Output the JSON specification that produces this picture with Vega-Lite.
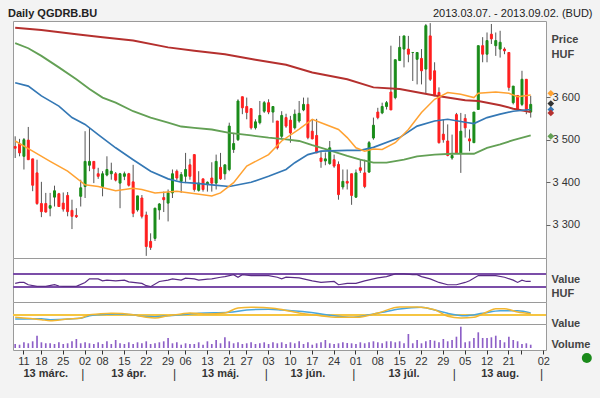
{
"$schema":"https://vega.github.io/schema/vega-lite/v6.json",
"background":"#f3f3f3",
"padding":{"left":8,"top":6,"right":7,"bottom":1},
"autosize":{"type":"pad"},
"bounds":"flush",
"spacing":0,
"config":{"font":"Liberation Sans","view":{"stroke":"#9a9a9a","fill":"#ffffff"},"axis":{"labelFont":"Liberation Sans","titleFont":"Liberation Sans","grid":false},"text":{"font":"Liberation Sans"}},
"title":{"text":"Daily QGDRB.BU","anchor":"start","frame":"group","fontSize":11,"fontWeight":"bold","color":"#222","font":"Liberation Sans","baseline":"bottom","offset":0,"dx":-5,"dy":23},
"resolve":{"scale":{"x":"shared","color":"independent","strokeWidth":"independent"}},
"datasets":{
"c":[
{"d":"03-07","o":3484,"h":3508,"l":3457,"c":3480,"v":4000},
{"d":"03-08","o":3490,"h":3502,"l":3461,"c":3469,"v":3300},
{"d":"03-11","o":3461,"h":3504,"l":3430,"c":3500,"v":5700},
{"d":"03-12","o":3499,"h":3530,"l":3453,"c":3453,"v":4700},
{"d":"03-13","o":3455,"h":3455,"l":3379,"c":3393,"v":6700},
{"d":"03-14","o":3422,"h":3453,"l":3347,"c":3350,"v":12300},
{"d":"03-18","o":3350,"h":3401,"l":3318,"c":3331,"v":5700},
{"d":"03-19","o":3350,"h":3375,"l":3329,"c":3330,"v":4700},
{"d":"03-20","o":3339,"h":3375,"l":3320,"c":3345,"v":4700},
{"d":"03-21","o":3365,"h":3392,"l":3343,"c":3380,"v":4000},
{"d":"03-22","o":3373,"h":3375,"l":3342,"c":3343,"v":5700},
{"d":"03-25","o":3351,"h":3376,"l":3331,"c":3337,"v":4000},
{"d":"03-26","o":3369,"h":3377,"l":3320,"c":3331,"v":4700},
{"d":"03-27","o":3334,"h":3359,"l":3290,"c":3320,"v":6700},
{"d":"03-28","o":3322,"h":3339,"l":3316,"c":3319,"v":9000},
{"d":"03-29","o":3367,"h":3406,"l":3343,"c":3387,"v":4700},
{"d":"04-02","o":3390,"h":3520,"l":3363,"c":3449,"v":5700},
{"d":"04-03","o":3440,"h":3528,"l":3426,"c":3449,"v":4700},
{"d":"04-04","o":3449,"h":3449,"l":3398,"c":3432,"v":4000},
{"d":"04-05","o":3420,"h":3434,"l":3408,"c":3414,"v":5700},
{"d":"04-08","o":3390,"h":3426,"l":3367,"c":3420,"v":4000},
{"d":"04-09","o":3417,"h":3461,"l":3414,"c":3430,"v":6700},
{"d":"04-10","o":3420,"h":3446,"l":3406,"c":3426,"v":4000},
{"d":"04-11","o":3420,"h":3424,"l":3402,"c":3405,"v":8000},
{"d":"04-12","o":3398,"h":3422,"l":3339,"c":3420,"v":4700},
{"d":"04-15","o":3414,"h":3425,"l":3405,"c":3420,"v":4000},
{"d":"04-16","o":3420,"h":3422,"l":3390,"c":3393,"v":5700},
{"d":"04-17","o":3401,"h":3441,"l":3318,"c":3327,"v":4000},
{"d":"04-18","o":3335,"h":3368,"l":3331,"c":3368,"v":5700},
{"d":"04-19","o":3363,"h":3370,"l":3315,"c":3320,"v":4700},
{"d":"04-22","o":3323,"h":3331,"l":3227,"c":3249,"v":6700},
{"d":"04-23","o":3261,"h":3280,"l":3241,"c":3247,"v":4000},
{"d":"04-24","o":3268,"h":3340,"l":3262,"c":3339,"v":4700},
{"d":"04-25","o":3335,"h":3351,"l":3312,"c":3349,"v":5700},
{"d":"04-26","o":3364,"h":3378,"l":3330,"c":3359,"v":6700},
{"d":"04-29","o":3351,"h":3383,"l":3308,"c":3375,"v":10000},
{"d":"04-30","o":3375,"h":3430,"l":3363,"c":3420,"v":4700},
{"d":"05-02","o":3426,"h":3430,"l":3405,"c":3410,"v":5700},
{"d":"05-03","o":3402,"h":3424,"l":3375,"c":3418,"v":3300},
{"d":"05-06","o":3414,"h":3469,"l":3398,"c":3430,"v":4700},
{"d":"05-07","o":3441,"h":3455,"l":3406,"c":3414,"v":4000},
{"d":"05-08","o":3465,"h":3465,"l":3378,"c":3383,"v":4000},
{"d":"05-09","o":3381,"h":3426,"l":3378,"c":3398,"v":5700},
{"d":"05-10","o":3408,"h":3408,"l":3378,"c":3383,"v":3300},
{"d":"05-13","o":3396,"h":3402,"l":3378,"c":3400,"v":6700},
{"d":"05-14","o":3410,"h":3447,"l":3378,"c":3398,"v":4000},
{"d":"05-15","o":3398,"h":3465,"l":3383,"c":3449,"v":8000},
{"d":"05-16","o":3435,"h":3469,"l":3406,"c":3408,"v":4700},
{"d":"05-17","o":3420,"h":3441,"l":3406,"c":3441,"v":10700},
{"d":"05-21","o":3430,"h":3540,"l":3426,"c":3532,"v":6700},
{"d":"05-22","o":3477,"h":3516,"l":3469,"c":3491,"v":4700},
{"d":"05-23","o":3500,"h":3595,"l":3497,"c":3591,"v":5700},
{"d":"05-24","o":3601,"h":3601,"l":3560,"c":3575,"v":4000},
{"d":"05-27","o":3578,"h":3599,"l":3548,"c":3564,"v":4700},
{"d":"05-28","o":3573,"h":3573,"l":3524,"c":3528,"v":5700},
{"d":"05-29","o":3528,"h":3548,"l":3524,"c":3542,"v":4000},
{"d":"05-30","o":3540,"h":3591,"l":3536,"c":3557,"v":4700},
{"d":"05-31","o":3567,"h":3591,"l":3563,"c":3587,"v":5700},
{"d":"06-03","o":3587,"h":3595,"l":3560,"c":3565,"v":4000},
{"d":"06-04","o":3565,"h":3578,"l":3540,"c":3578,"v":5700},
{"d":"06-05","o":3544,"h":3544,"l":3477,"c":3481,"v":4700},
{"d":"06-06","o":3508,"h":3567,"l":3504,"c":3557,"v":5700},
{"d":"06-07","o":3552,"h":3561,"l":3528,"c":3532,"v":4000},
{"d":"06-10","o":3546,"h":3556,"l":3493,"c":3516,"v":5700},
{"d":"06-11","o":3528,"h":3571,"l":3524,"c":3560,"v":4700},
{"d":"06-12","o":3544,"h":3591,"l":3540,"c":3562,"v":6700},
{"d":"06-13","o":3570,"h":3599,"l":3567,"c":3583,"v":4000},
{"d":"06-14","o":3583,"h":3599,"l":3501,"c":3505,"v":5700},
{"d":"06-17","o":3520,"h":3548,"l":3501,"c":3502,"v":3300},
{"d":"06-18","o":3510,"h":3549,"l":3469,"c":3469,"v":4700},
{"d":"06-19","o":3457,"h":3473,"l":3434,"c":3449,"v":5700},
{"d":"06-20","o":3450,"h":3470,"l":3440,"c":3455,"v":8000},
{"d":"06-21","o":3444,"h":3497,"l":3441,"c":3481,"v":4700},
{"d":"06-24","o":3453,"h":3465,"l":3434,"c":3438,"v":4000},
{"d":"06-25","o":3442,"h":3449,"l":3359,"c":3371,"v":4700},
{"d":"06-26","o":3389,"h":3430,"l":3383,"c":3402,"v":5700},
{"d":"06-27","o":3402,"h":3430,"l":3383,"c":3398,"v":5000},
{"d":"06-28","o":3420,"h":3420,"l":3347,"c":3369,"v":4700},
{"d":"07-01","o":3365,"h":3430,"l":3363,"c":3422,"v":4000},
{"d":"07-02","o":3434,"h":3453,"l":3422,"c":3428,"v":5700},
{"d":"07-03","o":3422,"h":3453,"l":3386,"c":3390,"v":4700},
{"d":"07-04","o":3424,"h":3497,"l":3422,"c":3493,"v":5700},
{"d":"07-05","o":3504,"h":3552,"l":3500,"c":3534,"v":6700},
{"d":"07-08","o":3565,"h":3575,"l":3548,"c":3552,"v":5700},
{"d":"07-09","o":3563,"h":3587,"l":3560,"c":3578,"v":4700},
{"d":"07-10","o":3578,"h":3591,"l":3571,"c":3587,"v":6700},
{"d":"07-11","o":3612,"h":3721,"l":3570,"c":3570,"v":6700},
{"d":"07-12","o":3599,"h":3688,"l":3595,"c":3688,"v":5700},
{"d":"07-15","o":3686,"h":3744,"l":3686,"c":3717,"v":6700},
{"d":"07-16","o":3713,"h":3744,"l":3670,"c":3744,"v":4700},
{"d":"07-17","o":3713,"h":3744,"l":3682,"c":3701,"v":14000},
{"d":"07-18","o":3705,"h":3706,"l":3638,"c":3705,"v":4700},
{"d":"07-19","o":3689,"h":3705,"l":3630,"c":3705,"v":8000},
{"d":"07-22","o":3691,"h":3713,"l":3630,"c":3662,"v":4700},
{"d":"07-23","o":3666,"h":3772,"l":3607,"c":3768,"v":6700},
{"d":"07-24","o":3744,"h":3774,"l":3638,"c":3642,"v":8000},
{"d":"07-25","o":3662,"h":3682,"l":3603,"c":3603,"v":7300},
{"d":"07-26","o":3611,"h":3623,"l":3491,"c":3493,"v":5700},
{"d":"07-29","o":3513,"h":3548,"l":3493,"c":3500,"v":9000},
{"d":"07-30","o":3497,"h":3536,"l":3461,"c":3463,"v":6700},
{"d":"07-31","o":3457,"h":3512,"l":3453,"c":3463,"v":8000},
{"d":"08-01","o":3559,"h":3563,"l":3469,"c":3469,"v":11300},
{"d":"08-02","o":3469,"h":3563,"l":3422,"c":3520,"v":21300},
{"d":"08-05","o":3550,"h":3560,"l":3505,"c":3528,"v":5700},
{"d":"08-06","o":3502,"h":3524,"l":3473,"c":3497,"v":6700},
{"d":"08-07","o":3493,"h":3565,"l":3493,"c":3565,"v":10000},
{"d":"08-08","o":3571,"h":3721,"l":3571,"c":3721,"v":15700},
{"d":"08-09","o":3721,"h":3741,"l":3682,"c":3701,"v":10000},
{"d":"08-12","o":3701,"h":3752,"l":3682,"c":3733,"v":10000},
{"d":"08-13","o":3748,"h":3772,"l":3725,"c":3737,"v":10700},
{"d":"08-14","o":3721,"h":3752,"l":3697,"c":3733,"v":12300},
{"d":"08-15","o":3713,"h":3756,"l":3693,"c":3729,"v":8000},
{"d":"08-16","o":3713,"h":3717,"l":3701,"c":3709,"v":5700},
{"d":"08-21","o":3705,"h":3705,"l":3615,"c":3623,"v":11300},
{"d":"08-22","o":3587,"h":3626,"l":3583,"c":3626,"v":8000},
{"d":"08-23","o":3604,"h":3604,"l":3570,"c":3571,"v":6700},
{"d":"08-26","o":3583,"h":3662,"l":3579,"c":3642,"v":4000},
{"d":"08-27","o":3642,"h":3642,"l":3560,"c":3571,"v":4700},
{"d":"08-28","o":3565,"h":3603,"l":3552,"c":3583,"v":3300}
],
"ma":[
{"d":"03-07","s":"r","v":3763},{"d":"03-18","s":"r","v":3758},{"d":"03-28","s":"r","v":3748},{"d":"04-08","s":"r","v":3741},{"d":"04-17","s":"r","v":3733},{"d":"04-29","s":"r","v":3717},{"d":"05-08","s":"r","v":3709},{"d":"05-17","s":"r","v":3701},{"d":"05-29","s":"r","v":3688},{"d":"06-07","s":"r","v":3676},{"d":"06-17","s":"r","v":3658},{"d":"06-27","s":"r","v":3642},{"d":"07-05","s":"r","v":3623},{"d":"07-15","s":"r","v":3619},{"d":"07-25","s":"r","v":3604},{"d":"08-05","s":"r","v":3593},{"d":"08-08","s":"r","v":3591},{"d":"08-15","s":"r","v":3581},{"d":"08-22","s":"r","v":3573},{"d":"08-28","s":"r","v":3565},
{"d":"03-07","s":"g","v":3727},{"d":"03-12","s":"g","v":3715},{"d":"03-18","s":"g","v":3697},{"d":"03-22","s":"g","v":3670},{"d":"03-28","s":"g","v":3642},{"d":"04-03","s":"g","v":3619},{"d":"04-08","s":"g","v":3599},{"d":"04-11","s":"g","v":3587},{"d":"04-17","s":"g","v":3567},{"d":"04-23","s":"g","v":3552},{"d":"04-29","s":"g","v":3540},{"d":"05-03","s":"g","v":3531},{"d":"05-08","s":"g","v":3528},{"d":"05-14","s":"g","v":3524},{"d":"05-21","s":"g","v":3516},{"d":"05-28","s":"g","v":3510},{"d":"06-03","s":"g","v":3505},{"d":"06-07","s":"g","v":3501},{"d":"06-12","s":"g","v":3497},{"d":"06-17","s":"g","v":3487},{"d":"06-21","s":"g","v":3475},{"d":"06-27","s":"g","v":3462},{"d":"07-02","s":"g","v":3453},{"d":"07-05","s":"g","v":3446},{"d":"07-10","s":"g","v":3446},{"d":"07-16","s":"g","v":3453},{"d":"07-19","s":"g","v":3461},{"d":"07-25","s":"g","v":3465},{"d":"07-31","s":"g","v":3467},{"d":"08-07","s":"g","v":3467},{"d":"08-12","s":"g","v":3481},{"d":"08-15","s":"g","v":3489},{"d":"08-22","s":"g","v":3499},{"d":"08-28","s":"g","v":3510},
{"d":"03-07","s":"b","v":3634},{"d":"03-12","s":"b","v":3626},{"d":"03-18","s":"b","v":3603},{"d":"03-22","s":"b","v":3579},{"d":"03-27","s":"b","v":3552},{"d":"04-02","s":"b","v":3536},{"d":"04-05","s":"b","v":3512},{"d":"04-11","s":"b","v":3481},{"d":"04-17","s":"b","v":3453},{"d":"04-23","s":"b","v":3426},{"d":"04-29","s":"b","v":3408},{"d":"05-03","s":"b","v":3400},{"d":"05-08","s":"b","v":3398},{"d":"05-14","s":"b","v":3394},{"d":"05-21","s":"b","v":3390},{"d":"05-28","s":"b","v":3400},{"d":"06-03","s":"b","v":3414},{"d":"06-07","s":"b","v":3430},{"d":"06-11","s":"b","v":3446},{"d":"06-14","s":"b","v":3465},{"d":"06-19","s":"b","v":3473},{"d":"06-27","s":"b","v":3475},{"d":"07-02","s":"b","v":3475},{"d":"07-05","s":"b","v":3482},{"d":"07-15","s":"b","v":3505},{"d":"07-19","s":"b","v":3532},{"d":"07-25","s":"b","v":3544},{"d":"07-30","s":"b","v":3548},{"d":"08-05","s":"b","v":3541},{"d":"08-07","s":"b","v":3538},{"d":"08-12","s":"b","v":3552},{"d":"08-15","s":"b","v":3560},{"d":"08-22","s":"b","v":3567},{"d":"08-28","s":"b","v":3571},
{"d":"03-07","s":"o","v":3497},{"d":"03-13","s":"o","v":3473},{"d":"03-20","s":"o","v":3449},{"d":"03-26","s":"o","v":3426},{"d":"04-02","s":"o","v":3394},{"d":"04-05","s":"o","v":3390},{"d":"04-11","s":"o","v":3380},{"d":"04-17","s":"o","v":3386},{"d":"04-19","s":"o","v":3383},{"d":"04-24","s":"o","v":3375},{"d":"05-02","s":"o","v":3379},{"d":"05-07","s":"o","v":3375},{"d":"05-14","s":"o","v":3368},{"d":"05-16","s":"o","v":3375},{"d":"05-22","s":"o","v":3399},{"d":"05-27","s":"o","v":3438},{"d":"06-03","s":"o","v":3465},{"d":"06-06","s":"o","v":3497},{"d":"06-12","s":"o","v":3525},{"d":"06-17","s":"o","v":3548},{"d":"06-19","s":"o","v":3540},{"d":"06-25","s":"o","v":3524},{"d":"06-27","s":"o","v":3505},{"d":"07-01","s":"o","v":3481},{"d":"07-03","s":"o","v":3473},{"d":"07-05","s":"o","v":3478},{"d":"07-09","s":"o","v":3477},{"d":"07-12","s":"o","v":3493},{"d":"07-17","s":"o","v":3524},{"d":"07-22","s":"o","v":3564},{"d":"07-25","s":"o","v":3595},{"d":"07-30","s":"o","v":3611},{"d":"08-02","s":"o","v":3607},{"d":"08-07","s":"o","v":3599},{"d":"08-08","s":"o","v":3609},{"d":"08-14","s":"o","v":3612},{"d":"08-21","s":"o","v":3609},{"d":"08-23","s":"o","v":3601},{"d":"08-28","s":"o","v":3605}
],
"lv":[{"s":"o","v":3609},{"s":"k","v":3585},{"s":"b","v":3571},{"s":"r","v":3563},{"s":"g","v":3508}],
"lvl":[{"y":70},{"y":30}],
"rsi":[
{"d":"03-07","r":41},{"d":"03-08","r":44},{"d":"03-11","r":44},{"d":"03-12","r":37},{"d":"03-14","r":32},{"d":"03-19","r":32},{"d":"03-21","r":37},{"d":"03-22","r":33},{"d":"03-25","r":32},{"d":"03-28","r":32},{"d":"04-02","r":44},{"d":"04-03","r":55},{"d":"04-05","r":55},{"d":"04-08","r":49},{"d":"04-09","r":51},{"d":"04-11","r":49},{"d":"04-15","r":51},{"d":"04-16","r":46},{"d":"04-19","r":41},{"d":"04-22","r":34},{"d":"04-23","r":31},{"d":"04-25","r":47},{"d":"04-29","r":51},{"d":"04-30","r":55},{"d":"05-03","r":51},{"d":"05-06","r":57},{"d":"05-08","r":55},{"d":"05-09","r":51},{"d":"05-13","r":54},{"d":"05-14","r":55},{"d":"05-16","r":60},{"d":"05-17","r":62},{"d":"05-22","r":68},{"d":"05-23","r":60},{"d":"05-24","r":68},{"d":"05-28","r":65},{"d":"06-03","r":65},{"d":"06-05","r":60},{"d":"06-06","r":55},{"d":"06-07","r":60},{"d":"06-12","r":58},{"d":"06-17","r":49},{"d":"06-19","r":44},{"d":"06-24","r":47},{"d":"06-25","r":37},{"d":"06-27","r":41},{"d":"07-01","r":41},{"d":"07-03","r":49},{"d":"07-08","r":58},{"d":"07-10","r":62},{"d":"07-12","r":70},{"d":"07-16","r":70},{"d":"07-18","r":68},{"d":"07-19","r":68},{"d":"07-22","r":62},{"d":"07-24","r":55},{"d":"07-26","r":44},{"d":"07-30","r":37},{"d":"08-01","r":37},{"d":"08-05","r":44},{"d":"08-06","r":49},{"d":"08-08","r":65},{"d":"08-12","r":65},{"d":"08-14","r":65},{"d":"08-16","r":60},{"d":"08-22","r":51},{"d":"08-23","r":44},{"d":"08-26","r":51},{"d":"08-27","r":47},{"d":"08-28","r":47}
],
"macd":[
{"d":"03-07","s":"m","v":-4.3},{"d":"03-18","s":"m","v":-4},{"d":"03-20","s":"m","v":-5},{"d":"03-29","s":"m","v":-3.6},{"d":"04-03","s":"m","v":-1},{"d":"04-05","s":"m","v":0},{"d":"04-11","s":"m","v":0.7},{"d":"04-17","s":"m","v":0},{"d":"04-19","s":"m","v":-1.6},{"d":"04-24","s":"m","v":-2},{"d":"04-29","s":"m","v":-1},{"d":"05-03","s":"m","v":0},{"d":"05-09","s":"m","v":1.4},{"d":"05-21","s":"m","v":2.4},{"d":"05-27","s":"m","v":4.7},{"d":"06-03","s":"m","v":5.4},{"d":"06-06","s":"m","v":4.7},{"d":"06-12","s":"m","v":3.4},{"d":"06-18","s":"m","v":1.4},{"d":"06-24","s":"m","v":-1},{"d":"06-28","s":"m","v":-2.6},{"d":"07-03","s":"m","v":-1},{"d":"07-09","s":"m","v":2.4},{"d":"07-15","s":"m","v":5.7},{"d":"07-22","s":"m","v":7.4},{"d":"07-25","s":"m","v":4.7},{"d":"07-30","s":"m","v":1.4},{"d":"08-05","s":"m","v":-1},{"d":"08-09","s":"m","v":1.4},{"d":"08-15","s":"m","v":4},{"d":"08-23","s":"m","v":4},{"d":"08-28","s":"m","v":1.7},
{"d":"03-07","s":"s","v":-2.6},{"d":"03-18","s":"s","v":-5},{"d":"03-20","s":"s","v":-6},{"d":"03-26","s":"s","v":-4.3},{"d":"03-29","s":"s","v":-3.3},{"d":"04-03","s":"s","v":0},{"d":"04-05","s":"s","v":0.7},{"d":"04-10","s":"s","v":1.4},{"d":"04-17","s":"s","v":0},{"d":"04-22","s":"s","v":-2.6},{"d":"04-24","s":"s","v":-3.3},{"d":"04-29","s":"s","v":-1},{"d":"05-03","s":"s","v":0.7},{"d":"05-07","s":"s","v":1.7},{"d":"05-13","s":"s","v":0.7},{"d":"05-17","s":"s","v":1.7},{"d":"05-23","s":"s","v":6.7},{"d":"05-28","s":"s","v":7.4},{"d":"06-04","s":"s","v":6.4},{"d":"06-10","s":"s","v":3.4},{"d":"06-12","s":"s","v":1.7},{"d":"06-18","s":"s","v":-0.6},{"d":"06-25","s":"s","v":-2.6},{"d":"07-01","s":"s","v":-2.6},{"d":"07-08","s":"s","v":1.7},{"d":"07-15","s":"s","v":7.7},{"d":"07-19","s":"s","v":7.7},{"d":"07-25","s":"s","v":5},{"d":"07-30","s":"s","v":-1.6},{"d":"08-02","s":"s","v":-3.3},{"d":"08-07","s":"s","v":-2.6},{"d":"08-12","s":"s","v":2.7},{"d":"08-14","s":"s","v":6},{"d":"08-16","s":"s","v":6},{"d":"08-23","s":"s","v":2.7},{"d":"08-28","s":"s","v":1}
],
"mo":[{"d":"03-19","t":"13 márc."},{"d":"04-16","t":"13 ápr."},{"d":"05-16","t":"13 máj."},{"d":"06-14","t":"13 jún."},{"d":"07-16","t":"13 júl."},{"d":"08-15","t":"13 aug."}],
"sep":[{"d":"04-02"},{"d":"05-02"},{"d":"06-03"},{"d":"07-01"},{"d":"08-01"},{"d":"09-02"}],
"dot":[{"v":-10000}]
},
"vconcat":[
{
"width":533,"height":237,
"layer":[
{"data":{"name":"c"},"mark":{"type":"rule","color":"#555555","strokeWidth":1},
"encoding":{
"x":{"field":"d","type":"ordinal","scale":{"type":"band","paddingInner":0,"paddingOuter":0,"domain":["03-07","03-08","03-11","03-12","03-13","03-14","03-18","03-19","03-20","03-21","03-22","03-25","03-26","03-27","03-28","03-29","04-02","04-03","04-04","04-05","04-08","04-09","04-10","04-11","04-12","04-15","04-16","04-17","04-18","04-19","04-22","04-23","04-24","04-25","04-26","04-29","04-30","05-02","05-03","05-06","05-07","05-08","05-09","05-10","05-13","05-14","05-15","05-16","05-17","05-21","05-22","05-23","05-24","05-27","05-28","05-29","05-30","05-31","06-03","06-04","06-05","06-06","06-07","06-10","06-11","06-12","06-13","06-14","06-17","06-18","06-19","06-20","06-21","06-24","06-25","06-26","06-27","06-28","07-01","07-02","07-03","07-04","07-05","07-08","07-09","07-10","07-11","07-12","07-15","07-16","07-17","07-18","07-19","07-22","07-23","07-24","07-25","07-26","07-29","07-30","07-31","08-01","08-02","08-05","08-06","08-07","08-08","08-09","08-12","08-13","08-14","08-15","08-16","08-21","08-22","08-23","08-26","08-27","08-28","08-29","08-30","09-02"]},
"axis":{"orient":"top","labels":false,"ticks":false,"domain":false,"title":"2013.03.07. - 2013.09.02. (BUD)","titleX":579,"titleY":-8,"titleAlign":"right","titleBaseline":"middle","titleFontSize":11,"titleFontWeight":"normal","titleColor":"#222222"}},
"y":{"field":"l","type":"quantitative","scale":{"domain":[3222,3779],"zero":false,"nice":false},
"axis":{"orient":"right","values":[3300,3350,3400,3450,3500,3550,3600,3650],"labelExpr":"replace(format(datum.value, ','), ',', ' ')","tickSize":4,"tickColor":"#666666","domain":false,"labelFontSize":11,"labelColor":"#333333","labelPadding":2,"title":["Price","HUF"],"titleAngle":0,"titleX":5,"titleY":12,"titleAlign":"left","titleBaseline":"top","titleFontSize":11,"titleFontWeight":"bold","titleColor":"#444444","titleLineHeight":15}},
"y2":{"field":"h"}}},
{"data":{"name":"c"},"mark":{"type":"bar","width":{"band":0.45},"strokeWidth":1},
"encoding":{"x":{"field":"d","type":"ordinal"},"y":{"field":"o","type":"quantitative"},"y2":{"field":"c"},
"color":{"condition":{"test":"datum.c >= datum.o","value":"#1a8c1a"},"value":"#ff1f1f"},
"stroke":{"condition":{"test":"datum.c >= datum.o","value":"#1a8c1a"},"value":"#ff1f1f"}}},
{"data":{"name":"ma"},"mark":{"type":"line"},
"encoding":{"x":{"field":"d","type":"ordinal"},"y":{"field":"v","type":"quantitative"},
"color":{"field":"s","type":"nominal","scale":{"domain":["r","g","b","o","k"],"range":["#b5302e","#63a055","#3478b5","#ffa232","#333333"]},"legend":null},
"strokeWidth":{"field":"s","type":"ordinal","scale":{"domain":["r","g","b","o"],"range":[2,1.5,1.5,1.2]},"legend":null}}},
{"data":{"name":"lv"},"mark":{"type":"point","shape":"diamond","filled":true,"size":45,"opacity":1,"xOffset":7},
"encoding":{"x":{"datum":"09-02","type":"ordinal"},"y":{"field":"v","type":"quantitative"},
"color":{"field":"s","type":"nominal","scale":{"domain":["r","g","b","o","k"],"range":["#b5302e","#63a055","#3478b5","#ffa232","#333333"]},"legend":null}}}
]
},
{
"width":533,"height":44,
"layer":[
{"data":{"name":"lvl"},"mark":{"type":"rule","color":"#7b4ea8","strokeWidth":2},
"encoding":{"y":{"field":"y","type":"quantitative","scale":{"domain":[-16,119],"zero":false,"nice":false},
"axis":{"orient":"right","labels":false,"ticks":false,"domain":false,"title":["Value","HUF"],"titleAngle":0,"titleX":5,"titleY":15,"titleAlign":"left","titleBaseline":"top","titleFontSize":11,"titleFontWeight":"bold","titleColor":"#444444","titleLineHeight":14}}}},
{"data":{"name":"rsi"},"mark":{"type":"line","color":"#5b2c86","strokeWidth":1.2},
"encoding":{"x":{"field":"d","type":"ordinal","axis":null},"y":{"field":"r","type":"quantitative"}}}
]
},
{
"width":533,"height":22,
"layer":[
{"data":{"name":"macd"},"mark":{"type":"rule","color":"#f5c542","strokeWidth":1.5},
"encoding":{"y":{"datum":0,"type":"quantitative","scale":{"domain":[-9.3,12.7],"zero":false,"nice":false},
"axis":{"orient":"right","labels":false,"ticks":false,"domain":false,"title":"Value","titleAngle":0,"titleX":5,"titleY":15,"titleAlign":"left","titleBaseline":"top","titleFontSize":11,"titleFontWeight":"bold","titleColor":"#444444"}}}},
{"data":{"name":"macd"},"mark":{"type":"line","strokeWidth":1.5,"interpolate":"monotone"},
"encoding":{"x":{"field":"d","type":"ordinal","axis":null},"y":{"field":"v","type":"quantitative"},
"color":{"field":"s","type":"nominal","scale":{"domain":["m","s"],"range":["#4aa6dc","#f2b630"]},"legend":null}}}
]
},
{
"width":533,"height":26,
"layer":[
{"data":{"name":"c"},"mark":{"type":"bar","width":{"band":0.38},"color":"#8d5fc7"},
"encoding":{"x":{"field":"d","type":"ordinal",
"axis":{"orient":"bottom","values":["03-11","03-18","03-25","04-02","04-08","04-15","04-22","04-29","05-06","05-13","05-21","05-27","06-03","06-10","06-17","06-24","07-01","07-08","07-15","07-22","07-29","08-05","08-12","08-21","08-26","09-02"],"labelExpr":"datum.value == '08-26' ? '' : substring(datum.value, 3)","tickSize":4,"tickColor":"#333333","domain":false,"labelFontSize":11,"labelColor":"#333333","labelPadding":1,"labelAngle":0,"title":null}},
"y":{"field":"v","type":"quantitative","scale":{"domain":[-2000,24000],"zero":false,"nice":false},
"axis":{"orient":"right","labels":false,"ticks":false,"domain":false,"title":"Volume","titleAngle":0,"titleX":5,"titleY":14,"titleAlign":"left","titleBaseline":"top","titleFontSize":11,"titleFontWeight":"bold","titleColor":"#444444"}}}},
{"data":{"name":"dot"},"mark":{"type":"point","filled":true,"size":100,"opacity":1,"color":"#1a8a1a","xOffset":43},
"encoding":{"x":{"datum":"09-02","type":"ordinal"},"y":{"field":"v","type":"quantitative"}}}
]
},
{
"width":533,"height":48,
"view":{"stroke":null,"fill":null},
"layer":[
{"data":{"name":"mo"},"mark":{"type":"text","fontWeight":"bold","fontSize":11,"color":"#333333"},
"encoding":{"x":{"field":"d","type":"ordinal","axis":null},"text":{"field":"t"}}},
{"data":{"name":"sep"},"mark":{"type":"text","text":"|","fontSize":12,"color":"#333333"},
"encoding":{"x":{"field":"d","type":"ordinal","bandPosition":0}}}
]
}
]
}
